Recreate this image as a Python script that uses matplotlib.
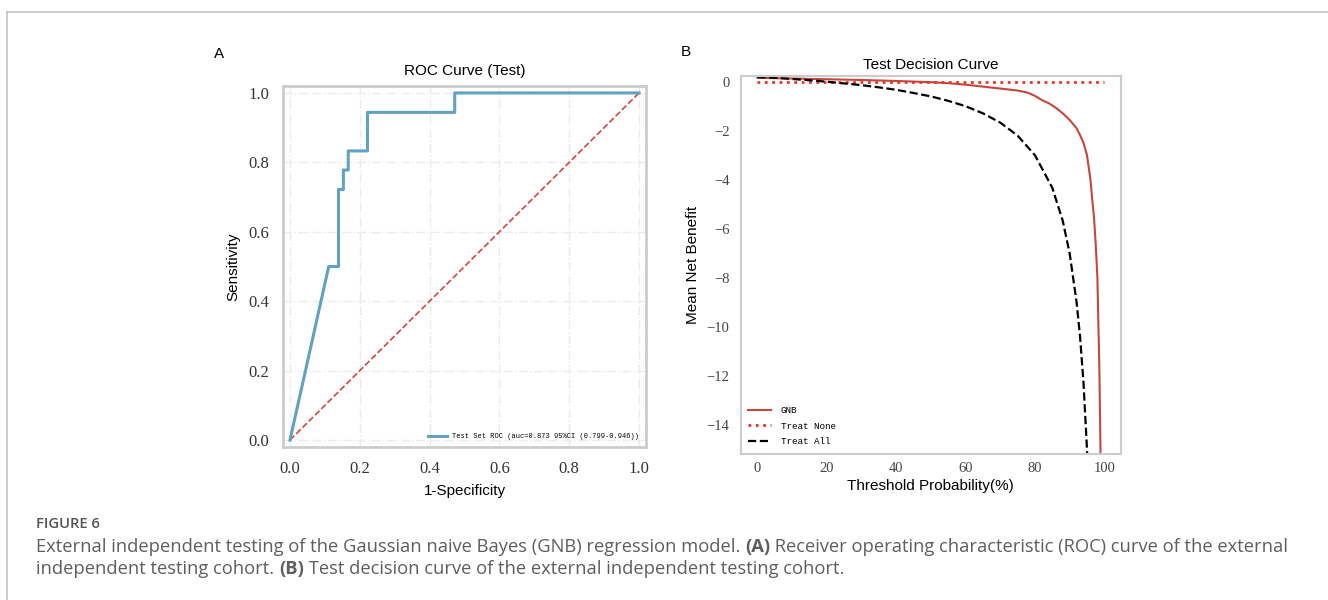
import matplotlib
matplotlib.use('Agg')
import matplotlib.pyplot as plt
from matplotlib.lines import Line2D

# ROC curve (test set)
roc_fpr = [0.0, 0.111, 0.139, 0.139, 0.153, 0.153, 0.167, 0.167, 0.222, 0.222, 0.472, 0.472, 1.0]
roc_tpr = [0.0, 0.5, 0.5, 0.722, 0.722, 0.778, 0.778, 0.833, 0.833, 0.944, 0.944, 1.0, 1.0]
roc_label = 'Test Set ROC (auc=0.873 95%CI (0.799-0.946))'
roc_ticks = [0.0, 0.2, 0.4, 0.6, 0.8, 1.0]

# decision curve
all_x = [0, 5, 10, 15, 20, 25, 30, 35, 40, 45, 50, 55, 60, 65, 70, 75, 80, 85, 88, 90, 92, 93, 94, 95, 96]
all_y = [0.18, 0.16, 0.11, 0.06, 0.0, -0.07, -0.14, -0.23, -0.33, -0.46, -0.6, -0.78, -1.0, -1.29,
         -1.67, -2.2, -3.0, -4.33, -5.67, -7.0, -9.0, -10.4, -12.3, -15.0, -19.0]
gnb_x = [0, 10, 20, 30, 40, 50, 55, 60, 65, 70, 75, 78, 80, 82, 84, 86, 88, 90, 92, 93, 94, 95,
         96, 96.5, 97, 97.5, 98, 98.3, 98.6, 98.9, 99.2]
gnb_y = [0.16, 0.13, 0.10, 0.07, 0.03, -0.02, -0.06, -0.12, -0.2, -0.28, -0.36, -0.45, -0.58, -0.75,
         -0.88, -1.06, -1.29, -1.56, -1.9, -2.18, -2.5, -3.0, -4.0, -4.8, -5.5, -6.6, -8.0, -10.0,
         -12.0, -15.2, -18.0]
none_x = [0, 100]
none_y = [0, 0]
dca_xticks = [0, 20, 40, 60, 80, 100]
dca_yticks = [0, -2, -4, -6, -8, -10, -12, -14]

caption_head = 'FIGURE 6'
caption_parts = [
    [('External independent testing of the Gaussian naive Bayes (GNB) regression model. ', 'normal'),
     ('(A)', 'bold'),
     (' Receiver operating characteristic (ROC) curve of the external', 'normal')],
    [('independent testing cohort. ', 'normal'),
     ('(B)', 'bold'),
     (' Test decision curve of the external independent testing cohort.', 'normal')],
]

sans = 'Liberation Sans'
serif = 'Liberation Serif'
mono = 'Liberation Mono'
cap_size = 13.2

fig = plt.figure(figsize=(13.28, 6), dpi=100)

# page frame (top and left rule)
fig.add_artist(Line2D([7 / 1328, 1], [1 - 12 / 600, 1 - 12 / 600], color='#c4c4c4', lw=1.2))
fig.add_artist(Line2D([7 / 1328, 7 / 1328], [0, 1 - 12 / 600], color='#c4c4c4', lw=1.2))

# ---- panel A : ROC ----
ax1 = fig.add_axes([283 / 1328, 153 / 600, 363 / 1328, 361 / 600])
ax1.plot(roc_fpr, roc_tpr, color='#5fa3c1', lw=2.2, label=roc_label, zorder=3)
ax1.plot([0, 1], [0, 1], color='#d9443c', lw=1.2, ls='--', zorder=2)
ax1.set_xlim(-0.02, 1.02)
ax1.set_ylim(-0.02, 1.02)
ax1.set_xticks(roc_ticks)
ax1.set_yticks(roc_ticks)
ax1.set_xticklabels(['%.1f' % t for t in roc_ticks], fontfamily=serif, fontsize=12, color='#333333')
ax1.set_yticklabels(['%.1f' % t for t in roc_ticks], fontfamily=serif, fontsize=12, color='#333333')
ax1.tick_params(length=0, pad=10)
ax1.grid(True, ls='-.', color='#ebebeb', lw=1)
ax1.set_axisbelow(True)
for s in ax1.spines.values():
    s.set_color('#cccccc')
    s.set_linewidth(2)
ax1.set_title('ROC Curve (Test)', fontfamily=sans, fontsize=11, pad=8)
ax1.set_xlabel('1-Specificity', fontfamily=sans, fontsize=11, labelpad=5)
ax1.set_ylabel('Sensitivity', fontfamily=sans, fontsize=11, labelpad=6)
ax1.legend(loc='lower right', frameon=False, prop={'family': mono, 'size': 5},
           handlelength=2.6, handletextpad=0.8, borderaxespad=0.6)
fig.text(219 / 1328, 1 - 54 / 600, 'A', fontfamily=sans, fontsize=11, ha='center', va='center')

# ---- panel B : decision curve ----
ax2 = fig.add_axes([740.7 / 1328, 146.3 / 600, 380.3 / 1328, 378 / 600])
ax2.plot(gnb_x, gnb_y, color='#c4473a', lw=1.5, label='GNB')
ax2.plot(none_x, none_y, color='#e8332c', lw=2, ls=':', label='Treat None')
ax2.plot(all_x, all_y, color='black', lw=1.6, ls='--', label='Treat All')
ax2.set_xlim(-4.8, 104.8)
ax2.set_ylim(-15.18, 0.245)
ax2.set_xticks(dca_xticks)
ax2.set_yticks(dca_yticks)
ax2.set_xticklabels([str(t) for t in dca_xticks], fontfamily=serif, fontsize=10.5, color='#444444')
ax2.set_yticklabels(['\u2212%d' % -t if t < 0 else str(t) for t in dca_yticks],
                    fontfamily=serif, fontsize=10.5, color='#444444')
ax2.tick_params(axis='y', length=0, pad=8)
ax2.tick_params(axis='x', length=0, pad=6)
for s in ax2.spines.values():
    s.set_color('#cccccc')
    s.set_linewidth(1.5)
ax2.set_title('Test Decision Curve', fontfamily=sans, fontsize=11, pad=5)
ax2.set_xlabel('Threshold Probability(%)', fontfamily=sans, fontsize=11, labelpad=3)
ax2.set_ylabel('Mean Net Benefit', fontfamily=sans, fontsize=11, labelpad=5)
ax2.legend(loc='lower left', frameon=False, prop={'family': mono, 'size': 6.7},
           handlelength=2.5, handletextpad=1.0, labelspacing=0.7, borderaxespad=0.4)
fig.text(686 / 1328, 1 - 52 / 600, 'B', fontfamily=sans, fontsize=11, ha='center', va='center')

# ---- caption ----
fig.text(36 / 1328, 1 - 524 / 600, caption_head, fontfamily='Open Sans', fontsize=10.6,
         fontweight='semibold', color='#555555', va='center')
line_y = [552, 574]
pieces = []
for parts, y in zip(caption_parts, line_y):
    row = []
    for txt, w in parts:
        row.append(fig.text(36 / 1328, 1 - y / 600, txt, fontfamily='Open Sans', fontsize=cap_size,
                            fontweight=w, color='#5e5e5e', va='baseline'))
    pieces.append(row)

# chain the caption pieces one after another using rendered extents
fig.canvas.draw()
renderer = fig.canvas.get_renderer()
for row in pieces:
    x_end = row[0].get_window_extent(renderer).x1
    for t in row[1:]:
        fx, fy = t.get_position()
        t.set_position((x_end / fig.bbox.width, fy))
        x_end = t.get_window_extent(renderer).x1

fig.savefig('out.png', dpi=100)
